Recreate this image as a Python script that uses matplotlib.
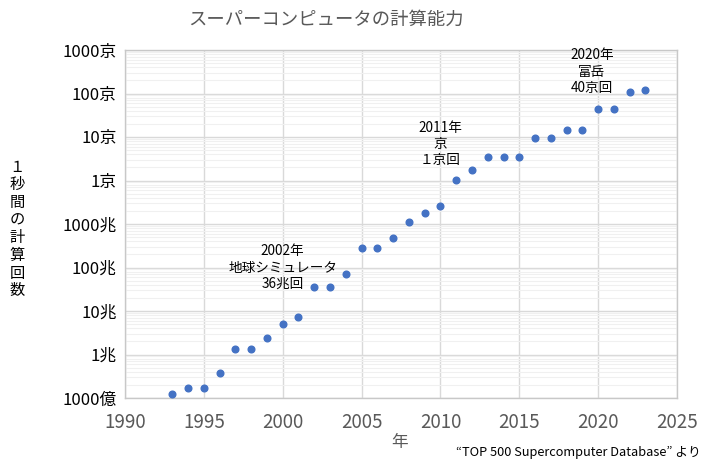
import matplotlib
matplotlib.use("Agg")
import matplotlib.pyplot as plt
from matplotlib.ticker import FixedLocator, LogLocator, NullFormatter

plt.rcParams['font.family'] = ['Noto Sans CJK JP', 'DejaVu Sans']

years = list(range(1993, 2024))
flops = [1.24e11, 1.70e11, 1.70e11, 3.68e11, 1.34e12, 1.34e12, 2.38e12,
         4.94e12, 7.23e12, 3.586e13, 3.586e13, 7.07e13, 2.806e14, 2.806e14,
         4.78e14, 1.105e15, 1.759e15, 2.566e15, 1.051e16, 1.759e16, 3.386e16,
         3.386e16, 3.386e16, 9.30e16, 9.30e16, 1.435e17, 1.486e17, 4.42e17,
         4.42e17, 1.102e18, 1.194e18]

ytick_vals = [1e11, 1e12, 1e13, 1e14, 1e15, 1e16, 1e17, 1e18, 1e19]
ytick_labels = ['1000億', '1兆', '10兆', '100兆', '1000兆', '1京', '10京', '100京', '1000京']
xticks = [1990, 1995, 2000, 2005, 2010, 2015, 2020, 2025]

notes = [(2000, 1.0e14, '2002年\n地球シミュレータ\n36兆回'),
         (2010, 6.8e16, '2011年\n京\n１京回'),
         (2019.6, 3.2e18, '2020年\n富岳\n40京回')]

fig = plt.figure(figsize=(7.13, 4.66), dpi=100)
ax = fig.add_axes([125/713, 1-398/466, (677-125)/713, (398-50)/466])

ax.plot(years, flops, 'o', color='#4472C4', markersize=4.8, zorder=3)
ax.set_yscale('log')
ax.set_xlim(1990, 2025)
ax.set_ylim(1e11, 1e19)
ax.yaxis.set_major_locator(FixedLocator(ytick_vals))
ax.set_yticklabels(ytick_labels, fontsize=12, color='black')
ax.yaxis.set_minor_locator(LogLocator(base=10, subs=range(2, 10), numticks=100))
ax.yaxis.set_minor_formatter(NullFormatter())
ax.set_xticks(xticks)
ax.set_xticklabels([str(x) for x in xticks], fontsize=13.5, color='#595959')

ax.grid(which='major', color='#D9D9D9', linewidth=1.0)
ax.grid(which='minor', axis='y', color='#F0F0F0', linewidth=0.8)
ax.set_axisbelow(True)
ax.tick_params(which='both', length=0)
ax.tick_params(axis='y', pad=6)
ax.tick_params(axis='x', pad=10)
for s in ax.spines.values():
    s.set_color('#C8C8C8')
    s.set_linewidth(1.0)

for x, y, t in notes:
    ax.text(x, y, t, ha='center', va='center', multialignment='center',
            fontsize=9.8, linespacing=1.2, color='black', zorder=4)

fig.text(326/713, 1-20/466, 'スーパーコンピュータの計算能力', ha='center', va='center',
         fontsize=13.2, color='#595959')
fig.text(17/713, 1-229/466, '１\n秒\n間\nの\n計\n算\n回\n数', ha='center', va='center',
         fontsize=11, linespacing=1.05, color='black')
fig.text(400/713, 1-443/466, '年', ha='center', va='center', fontsize=12, color='#595959')
fig.text(701/713, 1-452/466, '“TOP 500 Supercomputer Database” より', ha='right', va='center',
         fontsize=9.2, color='black')

fig.savefig('out.png', dpi=100)
